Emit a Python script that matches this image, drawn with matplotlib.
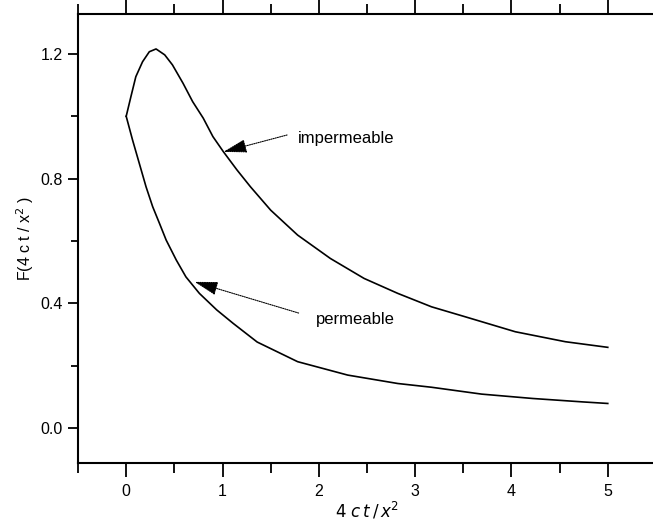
import matplotlib
matplotlib.use("Agg")
import matplotlib.pyplot as plt
from matplotlib.ticker import MultipleLocator

# ------------------ data ------------------
imp_x = [0.0, 0.049, 0.10, 0.17, 0.24, 0.31, 0.40, 0.48, 0.59, 0.69, 0.80, 0.90, 1.01,
         1.15, 1.29, 1.50, 1.78, 2.12, 2.47, 2.82, 3.17, 3.52, 4.04, 4.56, 5.0]
imp_y = [1.0, 1.063, 1.127, 1.175, 1.207, 1.216, 1.197, 1.165, 1.106, 1.047, 0.994, 0.935, 0.886,
         0.828, 0.774, 0.699, 0.619, 0.544, 0.480, 0.432, 0.389, 0.357, 0.309, 0.277, 0.259]

perm_x = [0.0, 0.066, 0.136, 0.206, 0.275, 0.345, 0.415, 0.52, 0.62, 0.76, 0.94, 1.11,
          1.36, 1.78, 2.30, 2.82, 3.17, 3.69, 4.22, 4.74, 5.0]
perm_y = [1.0, 0.924, 0.849, 0.774, 0.710, 0.657, 0.603, 0.539, 0.485, 0.432, 0.379, 0.336,
          0.276, 0.213, 0.170, 0.143, 0.131, 0.109, 0.095, 0.084, 0.079]

x_ticks = [0, 1, 2, 3, 4, 5]
y_ticks = [0.0, 0.4, 0.8, 1.2]
y_ticklabels = ["0.0", "0.4", "0.8", "1.2"]
# ---------------------------------------------------------------

plt.rcParams["font.family"] = ["Liberation Sans Narrow", "Liberation Sans", "DejaVu Sans"]

fig = plt.figure(figsize=(6.53, 5.27), dpi=100)
ax = fig.add_axes([0.1195, 0.1214, 0.885, 0.852])

ax.plot(imp_x, imp_y, color="black", lw=1.2)
ax.plot(perm_x, perm_y, color="black", lw=1.2)

ax.set_xlim(-0.5, 5.5)
ax.set_ylim(-0.112, 1.328)

ax.set_xticks(x_ticks)
ax.xaxis.set_minor_locator(MultipleLocator(0.5))
ax.set_yticks(y_ticks)
ax.set_yticklabels(y_ticklabels)
ax.yaxis.set_minor_locator(MultipleLocator(0.2))

ax.tick_params(axis="x", which="major", direction="out", length=10, width=1.3,
               top=True, labeltop=False, labelsize=11.5, pad=5)
ax.tick_params(axis="x", which="minor", direction="out", length=7, width=1.3, top=True)
ax.tick_params(axis="y", which="major", direction="out", length=7, width=1.3,
               labelsize=11.5, pad=4)
ax.tick_params(axis="y", which="minor", direction="out", length=5, width=1.3)

for side in ["left", "bottom", "top"]:
    ax.spines[side].set_linewidth(1.5)
ax.spines["right"].set_visible(False)

ax.set_xlabel(r"$4\ c\,t\,/\,x^2$", fontsize=12, labelpad=1)
ax.set_ylabel(r"F(4 c t / x$^2$ )", fontsize=11.5, labelpad=3,
              family=["Liberation Sans", "DejaVu Sans"])

arrow = dict(arrowstyle="-|>,head_length=1.45,head_width=0.42", color="black",
             lw=0.8, linestyle=(0, (1, 1)), shrinkA=0, shrinkB=0)
ax.annotate("", xy=(1.01, 0.886), xytext=(1.67, 0.94), arrowprops=arrow)
ax.text(1.78, 0.929, "impermeable", fontsize=12, va="center", ha="left",
        family=["Liberation Sans", "DejaVu Sans"])
ax.annotate("", xy=(0.71, 0.469), xytext=(1.79, 0.369), arrowprops=arrow)
ax.text(1.97, 0.347, "permeable", fontsize=12, va="center", ha="left",
        family=["Liberation Sans", "DejaVu Sans"])

fig.savefig("out.png", dpi=100)
